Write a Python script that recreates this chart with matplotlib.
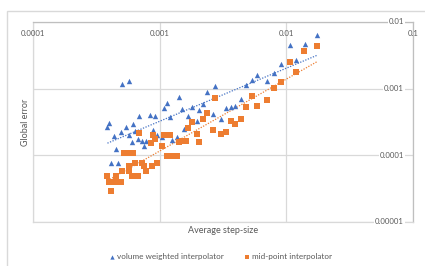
import numpy as np
import matplotlib.pyplot as plt
from matplotlib.patches import Rectangle
import matplotlib.transforms as mtransforms

# Data (average step-size vs global error)
vw_step = [3.87e-4, 3.98e-4, 4.10e-4, 4.38e-4, 4.50e-4, 4.69e-4, 4.92e-4, 5.01e-4,
           5.40e-4, 5.77e-4, 5.77e-4, 6.09e-4, 6.20e-4, 6.39e-4, 6.70e-4, 6.90e-4,
           7.21e-4, 7.57e-4, 7.75e-4, 8.43e-4, 8.85e-4, 9.24e-4, 9.59e-4, 1.04e-3,
           1.08e-3, 1.14e-3, 1.20e-3, 1.26e-3, 1.36e-3, 1.41e-3, 1.49e-3, 1.57e-3,
           1.66e-3, 1.81e-3, 1.96e-3, 2.05e-3, 2.21e-3, 2.38e-3, 2.62e-3, 2.73e-3,
           3.07e-3, 3.36e-3, 3.66e-3, 3.96e-3, 4.36e-3, 4.83e-3, 5.32e-3, 5.86e-3,
           7.03e-3, 8.03e-3, 9.02e-3, 1.06e-2, 1.19e-2, 1.40e-2, 1.75e-2]
vw_error = [2.69e-4, 3.09e-4, 7.76e-5, 1.95e-4, 1.26e-4, 7.76e-5, 2.21e-4, 1.16e-3,
            2.69e-4, 1.29e-3, 2.04e-4, 1.57e-4, 2.92e-4, 2.34e-4, 1.76e-4, 3.89e-4,
            1.66e-4, 1.38e-4, 1.66e-4, 4.03e-4, 2.40e-4, 3.89e-4, 2.02e-4, 1.86e-4,
            5.19e-4, 6.03e-4, 3.72e-4, 1.68e-4, 1.86e-4, 7.41e-4, 4.90e-4, 2.45e-4,
            3.89e-4, 5.25e-4, 3.31e-4, 4.79e-4, 5.89e-4, 8.81e-4, 4.17e-4, 1.11e-3,
            3.51e-4, 5.19e-4, 5.37e-4, 5.56e-4, 7.08e-4, 1.15e-3, 1.35e-3, 1.62e-3,
            1.32e-3, 1.70e-3, 2.34e-3, 4.47e-3, 2.69e-3, 4.68e-3, 6.46e-3]

mp_step = [3.87e-4, 3.98e-4, 4.10e-4, 4.30e-4, 4.50e-4, 4.69e-4, 4.92e-4, 5.01e-4,
           5.22e-4, 5.48e-4, 5.77e-4, 5.77e-4, 6.09e-4, 6.20e-4, 6.39e-4, 6.79e-4,
           6.90e-4, 7.26e-4, 7.57e-4, 7.75e-4, 8.49e-4, 8.75e-4, 8.85e-4, 9.24e-4,
           9.59e-4, 1.04e-3, 1.08e-3, 1.14e-3, 1.20e-3, 1.24e-3, 1.36e-3, 1.41e-3,
           1.49e-3, 1.60e-3, 1.66e-3, 1.81e-3, 1.96e-3, 2.05e-3, 2.21e-3, 2.38e-3,
           2.62e-3, 2.73e-3, 3.03e-3, 3.36e-3, 3.66e-3, 3.96e-3, 4.36e-3, 4.83e-3,
           5.32e-3, 5.86e-3, 7.03e-3, 8.03e-3, 9.02e-3, 1.06e-2, 1.19e-2, 1.39e-2,
           1.75e-2]
mp_error = [4.90e-5, 3.94e-5, 2.95e-5, 3.94e-5, 4.90e-5, 3.94e-5, 3.94e-5, 5.89e-5,
            1.07e-4, 1.07e-4, 7.00e-5, 5.89e-5, 4.90e-5, 1.07e-4, 7.76e-5, 4.90e-5,
            2.14e-4, 7.76e-5, 7.00e-5, 5.89e-5, 1.55e-4, 7.00e-5, 2.04e-4, 1.74e-4,
            7.76e-5, 1.38e-4, 2.02e-4, 9.89e-5, 2.04e-4, 9.89e-5, 9.89e-5, 1.57e-4,
            1.66e-4, 1.66e-4, 2.54e-4, 3.13e-4, 2.07e-4, 1.57e-4, 3.47e-4, 4.27e-4,
            2.40e-4, 7.33e-4, 2.07e-4, 2.24e-4, 3.27e-4, 2.95e-4, 3.55e-4, 5.25e-4,
            7.85e-4, 5.50e-4, 6.68e-4, 1.04e-3, 1.26e-3, 2.51e-3, 1.78e-3, 3.67e-3,
            4.32e-3]

x_ticks = [0.0001, 0.001, 0.01, 0.1]
x_tick_labels = ['0.0001', '0.001', '0.01', '0.1']
y_ticks = [0.00001, 0.0001, 0.001, 0.01]
y_tick_labels = ['0.00001', '0.0001', '0.001', '0.01']

blue = '#4472C4'
orange = '#ED7D31'
text_col = '#595959'
grid_col = '#d9d9d9'

plt.rcParams['font.family'] = ['Lato', 'DejaVu Sans']

fig = plt.figure(figsize=(4.25, 2.66), dpi=100)
ax = fig.add_axes([33 / 425, 1 - 222 / 266, 380 / 425, 200 / 266])

# outer chart frame
fig.patches.append(Rectangle((7 / 425, -0.2), 1.2, 1.2 - 11 / 266,
                             transform=fig.transFigure, fill=False,
                             edgecolor=grid_col, lw=1))

ax.set_xscale('log')
ax.set_yscale('log')
ax.set_xlim(1e-4, 1e-1)
ax.set_ylim(1e-5, 1e-2)
ax.set_xticks(x_ticks)
ax.set_yticks(y_ticks)
ax.minorticks_off()
ax.tick_params(length=0, labelbottom=False, labelleft=False)
ax.grid(True, color=grid_col, lw=0.9)
ax.set_axisbelow(True)
for s in ax.spines.values():
    s.set_color(grid_col)
    s.set_linewidth(0.9)
ax.spines['top'].set_color('#bfbfbf')
ax.spines['right'].set_color('#bfbfbf')

# trend lines (power fit)
for xs, ys, c in [(vw_step, vw_error, blue), (mp_step, mp_error, orange)]:
    lx, ly = np.log10(xs), np.log10(ys)
    k, b = np.polyfit(lx, ly, 1)
    xx = np.array([min(xs), max(xs)])
    ax.plot(xx, 10 ** (b + k * np.log10(xx)), color=c, lw=0.9,
            linestyle=(0, (1, 1.2)), zorder=2)

h1 = ax.scatter(vw_step, vw_error, marker='^', s=15, color=blue, lw=0, zorder=3,
                label='volume weighted interpolator')
h2 = ax.scatter(mp_step, mp_error, marker='s', s=14, color=orange, lw=0, zorder=3,
                label='mid-point interpolator')

# tick labels placed like Excel (axes crossing at maximum)
for v, lab in zip(x_ticks, x_tick_labels):
    ax.text(v, 0.9415, lab, transform=ax.get_xaxis_transform(), ha='center',
            va='center', fontsize=5.6, color=text_col)
ytrans = mtransforms.blended_transform_factory(ax.transAxes, ax.transData)
for v, lab in zip(y_ticks, y_tick_labels):
    ax.text(0.976, v, lab, transform=ytrans, ha='right', va='center',
            fontsize=5.6, color=text_col,
            bbox=dict(facecolor='white', edgecolor='none', pad=0.6))

ax.set_xlabel('Average step-size', fontsize=6.5, color=text_col, labelpad=3)
ax.set_ylabel('Global error', fontsize=6.5, color=text_col, labelpad=2)

fig.legend(handles=[h1, h2], loc='center', bbox_to_anchor=(220 / 425, 1 - 257 / 266),
           ncol=2, frameon=False, fontsize=5.9, labelcolor=text_col,
           handletextpad=0.1, columnspacing=2.3, markerscale=0.8, handlelength=1)

fig.savefig('out.png', dpi=100)
